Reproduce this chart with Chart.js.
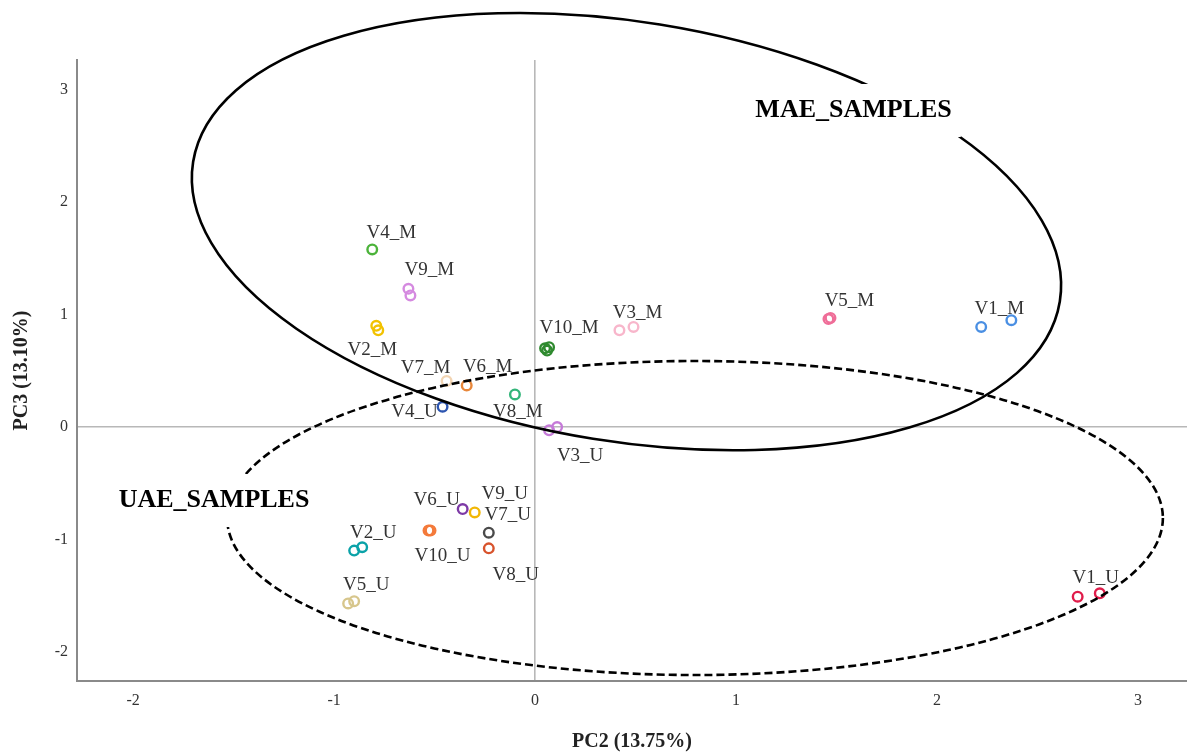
<!DOCTYPE html>
<html>
<head>
<meta charset="utf-8">
<title>PCA scores PC2 vs PC3</title>
<script src="https://cdn.jsdelivr.net/npm/chart.js@4.4.1/dist/chart.umd.min.js"></script>
<style>
  body { margin: 0; background: #fff; overflow: hidden; }
  #wrap { width: 1187px; height: 754px; }
  canvas { display: block; }
</style>
</head>
<body>
<div id="wrap"><canvas id="pcaPlot" width="1187" height="754"></canvas></div>
<script>
// sample scores (replicates per extract)
const sampleNames = ['V1_M', 'V2_M', 'V3_M', 'V4_M', 'V5_M', 'V6_M', 'V7_M', 'V8_M', 'V9_M', 'V10_M',
                     'V1_U', 'V2_U', 'V3_U', 'V4_U', 'V5_U', 'V6_U', 'V7_U', 'V8_U', 'V9_U', 'V10_U'];
const pc2Scores = [
  [2.22, 2.37], [-0.79, -0.78], [0.42, 0.49], [-0.81], [1.46, 1.47],
  [-0.34], [-0.44], [-0.10], [-0.63, -0.62], [0.05, 0.07, 0.06],
  [2.70, 2.81], [-0.90, -0.86], [0.07, 0.11], [-0.46], [-0.93, -0.90],
  [-0.36], [-0.23], [-0.23], [-0.30], [-0.53, -0.52]
];
const pc3Scores = [
  [0.89, 0.95], [0.90, 0.86], [0.86, 0.89], [1.58], [0.96, 0.97],
  [0.37], [0.41], [0.29], [1.23, 1.17], [0.70, 0.71, 0.68],
  [-1.51, -1.48], [-1.10, -1.07], [-0.03, 0.00], [0.18], [-1.57, -1.55],
  [-0.73], [-0.94], [-1.08], [-0.76], [-0.92, -0.92]
];
const sampleColors = [
  '#4a8fe3', '#f2c200', '#f8b6cb', '#4bb33a', '#ef6d98', '#e8873a', '#f2d4b2', '#33b57a', '#d58ae0', '#2f8a2f',
  '#e01c4a', '#0aa2a8', '#c57ad8', '#2d55b0', '#d7c68c', '#7d3aa6', '#4a4a4a', '#d8532c', '#f2b705', '#f47a3a'
];
// where each name sits relative to its points, in pixels
const labelOffsets = [
  [3, -15], [-5, 22], [11, -16], [19, -16], [20, -18], [21, -18], [-21, -13], [3, 18], [20, -22], [22, -21],
  [7, -17], [15, -16], [27, 27], [-28, 5], [15, -17], [-26, -9], [19, -18], [27, 27], [30, -18], [13, 26]
];

// the two extraction groups
const groupNames = ['MAE_SAMPLES', 'UAE_SAMPLES'];
const groupCentres = [[0.455, 1.738], [0.796, -0.81]];
const groupRadii = [[2.184, 1.867], [2.328, 1.397]];
const groupTilt = [9.16, 0];
const groupDash = [[], [8, 4]];
const groupLabelAt = [[1.585, 2.829], [-1.597, -0.641]];

const xTicksMin = -2.279, xTicksMax = 3.244;
const yTicksMin = -2.26, yTicksMax = 3.265;

const serif = '"Liberation Serif", "Times New Roman", serif';

const datasets = sampleNames.map((name, i) => ({
  label: name,
  data: pc2Scores[i].map((v, j) => ({ x: v, y: pc3Scores[i][j] })),
  borderColor: sampleColors[i],
  backgroundColor: 'rgba(0,0,0,0)',
  pointRadius: 4.8,
  pointBorderWidth: 2.4,
  pointHoverRadius: 4.8
}));

function meanPixel(scale, values) {
  let s = 0;
  values.forEach(v => { s += scale.getPixelForValue(v); });
  return s / values.length;
}

// names next to the points
const sampleLabels = {
  id: 'sampleLabels',
  afterDatasetsDraw(chart) {
    const { ctx, scales: { x, y } } = chart;
    ctx.save();
    ctx.font = '19px ' + serif;
    ctx.fillStyle = '#333';
    ctx.textAlign = 'center';
    ctx.textBaseline = 'middle';
    sampleNames.forEach((name, i) => {
      const px = meanPixel(x, pc2Scores[i]);
      const py = meanPixel(y, pc3Scores[i]);
      ctx.fillText(name, px + labelOffsets[i][0], py + labelOffsets[i][1]);
    });
    ctx.restore();
  }
};

// group outlines with their titles
const groupEllipses = {
  id: 'groupEllipses',
  afterDraw(chart) {
    const { ctx, scales: { x, y } } = chart;
    const perX = Math.abs(x.getPixelForValue(1) - x.getPixelForValue(0));
    const perY = Math.abs(y.getPixelForValue(1) - y.getPixelForValue(0));
    ctx.save();
    groupNames.forEach((name, i) => {
      const cx = x.getPixelForValue(groupCentres[i][0]);
      const cy = y.getPixelForValue(groupCentres[i][1]);
      ctx.beginPath();
      ctx.ellipse(cx, cy, groupRadii[i][0] * perX, groupRadii[i][1] * perY,
                  groupTilt[i] * Math.PI / 180, 0, 2 * Math.PI);
      ctx.setLineDash(groupDash[i]);
      ctx.lineWidth = 2.6;
      ctx.strokeStyle = '#000';
      ctx.stroke();
    });
    ctx.setLineDash([]);
    ctx.font = 'bold 26px ' + serif;
    ctx.textAlign = 'center';
    ctx.textBaseline = 'middle';
    groupNames.forEach((name, i) => {
      const tx = x.getPixelForValue(groupLabelAt[i][0]);
      const ty = y.getPixelForValue(groupLabelAt[i][1]);
      const w = ctx.measureText(name).width;
      ctx.fillStyle = '#fff';
      ctx.fillRect(tx - w / 2 - 12, ty - 25, w + 21, 53);
      ctx.fillStyle = '#000';
      ctx.fillText(name, tx, ty + 1);
    });
    ctx.restore();
  }
};

new Chart(document.getElementById('pcaPlot').getContext('2d'), {
  type: 'scatter',
  data: { datasets: datasets },
  options: {
    responsive: false,
    animation: false,
    layout: { autoPadding: false, padding: { top: 60, left: 10, right: 0, bottom: 0 } },
    plugins: {
      legend: { display: false },
      tooltip: { enabled: false }
    },
    scales: {
      x: {
        type: 'linear',
        min: xTicksMin,
        max: xTicksMax,
        afterFit(scale) { scale.height = 73; },
        ticks: { stepSize: 1, includeBounds: false, padding: 10, color: '#333', font: { family: serif, size: 16 } },
        grid: {
          drawTicks: false,
          color: c => (c.tick && c.tick.value === 0 ? '#b8b8b8' : 'rgba(0,0,0,0)'),
          lineWidth: 1.6
        },
        border: { color: '#8a8a8a', width: 2 },
        title: { display: true, text: 'PC2 (13.75%)', color: '#222', padding: 0, font: { family: serif, size: 20, weight: 'bold' } }
      },
      y: {
        type: 'linear',
        min: yTicksMin,
        max: yTicksMax,
        afterFit(scale) { scale.width = 67; },
        ticks: { stepSize: 1, includeBounds: false, padding: 9, color: '#333', font: { family: serif, size: 16 } },
        grid: {
          drawTicks: false,
          color: c => (c.tick && c.tick.value === 0 ? '#b8b8b8' : 'rgba(0,0,0,0)'),
          lineWidth: 1.6
        },
        border: { color: '#8a8a8a', width: 2 },
        title: { display: true, text: 'PC3 (13.10%)', color: '#222', padding: 0, font: { family: serif, size: 20, weight: 'bold' } }
      }
    }
  },
  plugins: [sampleLabels, groupEllipses]
});
</script>
</body>
</html>
